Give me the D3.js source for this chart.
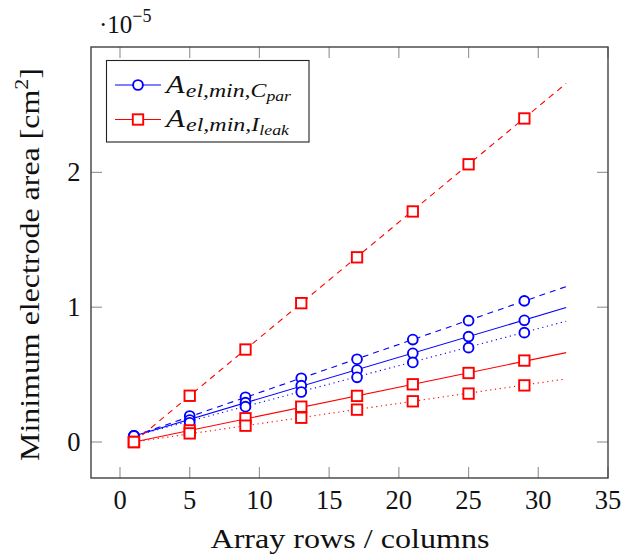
<!DOCTYPE html>
<html><head><meta charset="utf-8">
<script src="https://cdn.jsdelivr.net/npm/d3@7"></script>
<style>
html,body{margin:0;padding:0;background:#fff;}
svg{display:block;font-family:"Liberation Serif","Times New Roman",serif;}
</style></head>
<body><svg id="c" width="625" height="559"></svg>
<script>
// ---- data (values in units of 1e-5 cm^2) ----
const xs = [1, 5, 9, 13, 17, 21, 25, 29];
const blueDashed = [0.045, 0.193, 0.332, 0.473, 0.614, 0.760, 0.900, 1.047];
const blueSolid  = [0.045, 0.163, 0.292, 0.418, 0.534, 0.658, 0.782, 0.903];
const blueDotted = [0.045, 0.143, 0.262, 0.371, 0.480, 0.590, 0.700, 0.811];
const redDashed  = [0.000, 0.343, 0.686, 1.030, 1.370, 1.710, 2.060, 2.400];
const redSolid   = [0.000, 0.086, 0.176, 0.262, 0.342, 0.428, 0.512, 0.604];
const redDotted  = [0.000, 0.064, 0.121, 0.180, 0.240, 0.302, 0.359, 0.420];
// fitted trend lines: x range and values at its ends
const fitX = [1, 32];
const blueDashedFit = [0.045, 1.153];
const blueSolidFit  = [0.045, 0.997];
const blueDottedFit = [0.045, 0.896];
const redDashedFit  = [0.000, 2.660];
const redSolidFit   = [0.000, 0.663];
const redDottedFit  = [0.000, 0.468];
const xTicks = [0, 5, 10, 15, 20, 25, 30, 35];
const yTicks = [0, 1, 2];
const legendLabels = [
  {main: "A", sub: "el,min,", sub2a: "C", sub2b: "par"},
  {main: "A", sub: "el,min,", sub2a: "I", sub2b: "leak"}
];

const BLUE = "#0000ff", RED = "#ff0000";
const series = [
  {vals: blueDashed, fit: blueDashedFit, color: BLUE, dash: "6,5", marker: "circle"},
  {vals: blueSolid,  fit: blueSolidFit,  color: BLUE, dash: null,  marker: "circle"},
  {vals: blueDotted, fit: blueDottedFit, color: BLUE, dash: "1.2,3.6", marker: "circle"},
  {vals: redDashed,  fit: redDashedFit,  color: RED,  dash: "6,5", marker: "square"},
  {vals: redSolid,   fit: redSolidFit,   color: RED,  dash: null,  marker: "square"},
  {vals: redDotted,  fit: redDottedFit,  color: RED,  dash: "1.2,3.6", marker: "square"}
];

const L = 91, R = 608, T = 47, B = 478;
const x = d3.scaleLinear().domain([-2.08, 35]).range([L, R]);
const y = d3.scaleLinear().domain([-0.267, 2.93]).range([B, T]);
const svg = d3.select("#c");

// ticks (inside, on all four sides)
const TL = 11, tickCol = "#9a9a9a";
const g = svg.append("g");
xTicks.forEach(t => {
  g.append("line").attr("x1", x(t)).attr("x2", x(t)).attr("y1", B).attr("y2", B - TL).attr("stroke", tickCol).attr("stroke-width", 1.2);
  g.append("line").attr("x1", x(t)).attr("x2", x(t)).attr("y1", T).attr("y2", T + TL).attr("stroke", tickCol).attr("stroke-width", 1.2);
  svg.append("text").attr("x", x(t)).attr("y", 508.5).attr("text-anchor", "middle")
    .attr("font-size", 26.5).attr("fill", "#111").text(t);
});
yTicks.forEach(t => {
  g.append("line").attr("x1", L).attr("x2", L + TL).attr("y1", y(t)).attr("y2", y(t)).attr("stroke", tickCol).attr("stroke-width", 1.2);
  g.append("line").attr("x1", R).attr("x2", R - TL).attr("y1", y(t)).attr("y2", y(t)).attr("stroke", tickCol).attr("stroke-width", 1.2);
  svg.append("text").attr("x", 80.5).attr("y", y(t) + 9).attr("text-anchor", "end")
    .attr("font-size", 26.5).attr("fill", "#111").text(t);
});

// frame
svg.append("rect").attr("x", L).attr("y", T).attr("width", R - L).attr("height", B - T)
  .attr("fill", "none").attr("stroke", "#404040").attr("stroke-width", 1.4);

// fit lines
const line = d3.line().x(d => x(d[0])).y(d => y(d[1]));
series.forEach(s => {
  svg.append("path").attr("d", line(fitX.map((fx, i) => [fx, s.fit[i]])))
    .attr("fill", "none").attr("stroke", s.color).attr("stroke-width", 1.1)
    .attr("stroke-dasharray", s.dash);
});

function drawMarker(sel, type, cx, cy, color) {
  if (type === "circle") {
    sel.append("circle").attr("cx", cx).attr("cy", cy).attr("r", 4.9)
      .attr("fill", "#fff").attr("stroke", color).attr("stroke-width", 1.9);
  } else {
    sel.append("rect").attr("x", cx - 5.2).attr("y", cy - 5.2).attr("width", 10.4).attr("height", 10.4)
      .attr("fill", "#fff").attr("stroke", color).attr("stroke-width", 1.9);
  }
}
series.forEach(s => {
  const mg = svg.append("g");
  s.vals.forEach((v, i) => drawMarker(mg, s.marker, x(xs[i]), y(v), s.color));
});

// legend
const lg = svg.append("g");
lg.append("rect").attr("x", 106.5).attr("y", 60.5).attr("width", 202.5).attr("height", 81.5)
  .attr("fill", "#fff").attr("stroke", "#222").attr("stroke-width", 1.1);
const legColors = [BLUE, RED], legMarkers = ["circle", "square"], legY = [85, 119.5], legW = [125, 123];
legendLabels.forEach((lab, i) => {
  const yy = legY[i];
  lg.append("line").attr("x1", 115).attr("x2", 161).attr("y1", yy).attr("y2", yy)
    .attr("stroke", legColors[i]).attr("stroke-width", 1.1);
  drawMarker(lg, legMarkers[i], 138, yy, legColors[i]);
  const t = lg.append("text").attr("x", 166).attr("y", yy + 7.5).attr("font-style", "italic").attr("fill", "#111")
    .attr("textLength", legW[i]).attr("lengthAdjust", "spacingAndGlyphs");
  t.append("tspan").attr("font-size", 25).text(lab.main);
  t.append("tspan").attr("font-size", 19.5).attr("dy", 4).attr("dx", 1).text(lab.sub);
  t.append("tspan").attr("font-size", 19.5).text(lab.sub2a);
  t.append("tspan").attr("font-size", 14.5).attr("dy", 4).text(lab.sub2b);
});

// multiplier
const m = svg.append("text").attr("x", 99).attr("y", 33).attr("fill", "#111");
m.append("tspan").attr("font-size", 25).text("·10");
m.append("tspan").attr("font-size", 18).attr("dy", -11).text("−5");

// axis titles
svg.append("text").attr("x", 350).attr("y", 548).attr("text-anchor", "middle")
  .attr("font-size", 27.5).attr("fill", "#111")
  .attr("textLength", 279).attr("lengthAdjust", "spacingAndGlyphs").text("Array rows / columns");
const yl = svg.append("text").attr("transform", "translate(39,264.5) rotate(-90)")
  .attr("text-anchor", "middle").attr("font-size", 27.5).attr("fill", "#111")
  .attr("textLength", 393).attr("lengthAdjust", "spacingAndGlyphs");
yl.append("tspan").text("Minimum electrode area [cm");
yl.append("tspan").attr("font-size", 19).attr("dy", -11).text("2");
yl.append("tspan").attr("dy", 11).text("]");
</script></body></html>
